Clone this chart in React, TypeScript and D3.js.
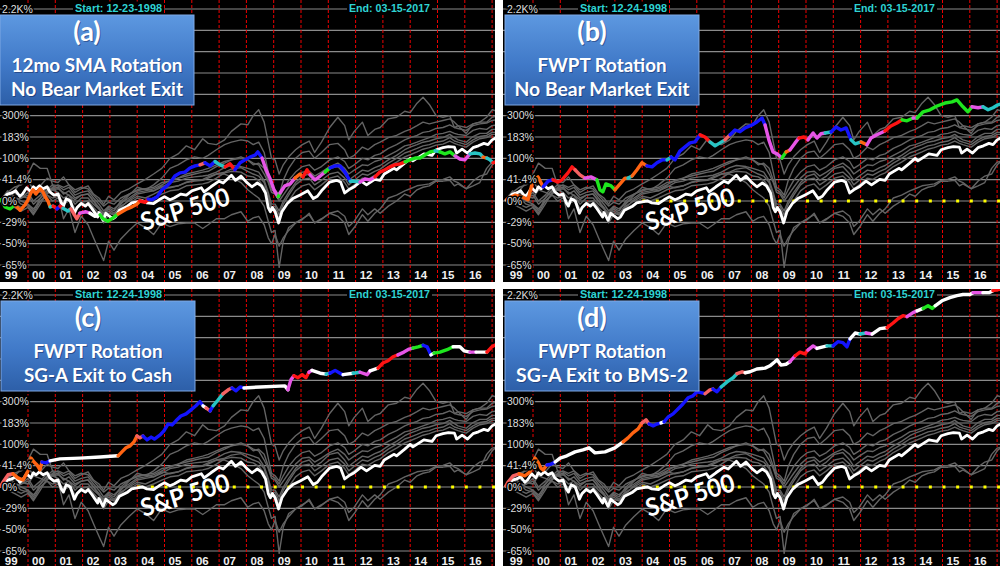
import React from 'react';
import * as d3 from 'd3';

type Pt = [number, number];
type Hold = [number, number, string];

// shared dates of the grey comparison funds (decimal years)
const peerYears = [
  1998.98, 1999.25, 1999.5, 1999.75, 2000.0, 2000.2, 2000.45, 2000.7, 2000.9, 2001.1,
  2001.3, 2001.5, 2001.72, 2001.95, 2002.2, 2002.4, 2002.6, 2002.77, 2002.95, 2003.15,
  2003.4, 2003.7, 2004.0, 2004.3, 2004.6, 2004.9, 2005.2, 2005.5, 2005.8, 2006.1,
  2006.4, 2006.6, 2006.9, 2007.2, 2007.45, 2007.8, 2008.05, 2008.25, 2008.45, 2008.65,
  2008.8, 2008.92, 2009.05, 2009.2, 2009.35, 2009.55, 2009.8, 2010.05, 2010.3, 2010.5,
  2010.75, 2011.05, 2011.35, 2011.6, 2011.75, 2011.95, 2012.25, 2012.45, 2012.7, 2012.9,
  2013.2, 2013.5, 2013.8, 2014.0, 2014.25, 2014.47, 2014.7, 2014.95, 2015.2, 2015.45,
  2015.62, 2015.75, 2016.05, 2016.3, 2016.55, 2016.8, 2017.0, 2017.2,
];

// % gain of each grey fund
const peerEnergy = [
  0, 10, 18, 8, 5, 20, 28, 45, 38, 35,
  48, 30, 15, 22, 28, 12, 5, -5, 8, 2,
  15, 22, 32, 42, 55, 70, 100, 115, 145, 130,
  175, 155, 150, 170, 210, 250, 245, 300, 340, 260,
  160, 100, 95, 55, 80, 105, 130, 150, 165, 120,
  160, 230, 290, 240, 170, 210, 260, 190, 220, 230,
  280, 290, 330, 320, 390, 440, 380, 300, 290, 300,
  230, 240, 200, 250, 260, 290, 340, 330,
];
const peerTech = [
  0, 12, 18, 35, 55, 85, 70, 70, 30, 10,
  -25, -12, -40, -22, -32, -45, -55, -62, -48, -55,
  -46, -38, -30, -35, -42, -30, -34, -31, -30, -30,
  -36, -32, -25, -25, -20, -16, -28, -24, -22, -32,
  -45, -50, -42, -52, -45, -38, -30, -25, -20, -30,
  -25, -18, -15, -22, -34, -28, -12, -20, -12, -18,
  -8, 0, 12, 8, 20, 25, 28, 38, 38, 40,
  28, 32, 22, 38, 50, 55, 80, 95,
];
const peerFinance = [
  0, 12, 5, -5, -8, -18, 0, 12, 20, 22,
  15, 10, 2, 10, 12, 0, -12, -18, -10, -15,
  0, 12, 18, 22, 18, 28, 24, 28, 36, 40,
  42, 48, 55, 55, 48, 35, 20, 12, 5, -8,
  -28, -40, -38, -66, -48, -35, -30, -26, -18, -30,
  -26, -18, -22, -30, -42, -35, -20, -28, -18, -12,
  5, 10, 18, 22, 28, 30, 32, 40, 42, 48,
  38, 35, 22, 28, 35, 70, 88, 92,
];
const peerFund4 = [
  0, 15, 25, 30, 40, 20, 15, 10, 0, 5,
  -5, 0, -15, -5, -5, -15, -20, -25, -18, -20,
  -5, 10, 25, 20, 30, 45, 70, 80, 95, 105,
  100, 110, 130, 150, 160, 170, 165, 150, 160, 120,
  60, 25, 20, 10, 40, 70, 100, 120, 125, 100,
  120, 150, 155, 130, 100, 110, 140, 130, 150, 160,
  180, 190, 210, 220, 240, 260, 250, 260, 270, 280,
  260, 240, 230, 250, 260, 260, 290, 300,
];
const peerFund5 = [
  0, 5, -5, -10, -5, -15, 5, 20, 30, 28,
  20, 25, 10, 15, 18, 5, -5, -15, -8, -12,
  -3, 5, 15, 18, 22, 30, 40, 45, 55, 60,
  65, 70, 80, 90, 95, 100, 95, 80, 85, 70,
  40, 20, 15, 5, 20, 40, 60, 75, 80, 65,
  75, 95, 105, 90, 70, 80, 100, 95, 110, 115,
  135, 150, 170, 180, 190, 205, 210, 225, 230, 245,
  230, 225, 215, 240, 250, 255, 270, 275,
];
const peerFund6 = [
  0, -5, -10, -15, -10, -20, -5, 15, 25, 30,
  25, 30, 20, 25, 22, 10, 0, -8, -2, -5,
  5, 12, 20, 22, 25, 35, 38, 45, 50, 55,
  60, 62, 75, 85, 95, 105, 95, 85, 80, 55,
  35, 15, 12, 0, 10, 25, 45, 60, 62, 50,
  60, 75, 85, 70, 55, 65, 80, 78, 90, 95,
  110, 125, 145, 150, 160, 170, 180, 195, 200, 210,
  200, 195, 190, 215, 225, 220, 240, 245,
];
const peerFund7 = [
  0, 18, 8, 0, -5, -12, 0, 10, 5, 8,
  -2, 5, -12, -2, 0, -10, -18, -30, -20, -25,
  -10, 2, 12, 15, 18, 25, 35, 38, 45, 48,
  50, 52, 60, 72, 78, 75, 70, 65, 60, 40,
  15, -5, -5, -15, 0, 15, 35, 50, 55, 40,
  50, 70, 75, 55, 40, 50, 65, 62, 72, 78,
  95, 110, 130, 140, 150, 160, 165, 175, 180, 195,
  180, 170, 160, 185, 200, 200, 220, 220,
];
const peerFund8 = [
  0, 10, 0, 5, 15, 0, 10, 25, 20, 15,
  5, 10, -5, 5, 5, -5, -12, -22, -15, -20,
  -8, 0, 8, 5, 12, 20, 25, 28, 35, 38,
  40, 45, 55, 60, 68, 72, 62, 55, 50, 35,
  10, -10, -8, -20, -5, 10, 30, 42, 45, 30,
  40, 55, 60, 45, 30, 40, 55, 52, 62, 68,
  85, 100, 118, 125, 135, 145, 150, 160, 165, 180,
  165, 160, 150, 170, 185, 190, 205, 205,
];
const peerFund9 = [
  0, 8, 15, 5, 10, -5, 5, 18, 22, 25,
  12, 18, 5, 10, 12, 0, -10, -20, -12, -18,
  -12, -5, 5, 0, 5, 12, 18, 20, 28, 30,
  32, 35, 45, 58, 62, 60, 50, 48, 40, 25,
  5, -15, -12, -25, -12, 0, 18, 28, 32, 20,
  30, 45, 50, 35, 22, 30, 45, 42, 52, 58,
  75, 88, 105, 112, 122, 132, 138, 148, 152, 165,
  155, 150, 140, 160, 175, 180, 195, 195,
];
const peers = [peerFund4, peerFund5, peerFund6, peerFund7, peerFund8, peerFund9, peerEnergy, peerTech, peerFinance];

// S&P 500, % gain
const sp500: Pt[] = [
  [1998.98, 0], [1999.1, 5], [1999.25, 12], [1999.4, 14], [1999.55, 18], [1999.7, 8], [1999.8, 12], [1999.95, 24],
  [2000.1, 16], [2000.2, 26], [2000.3, 22], [2000.42, 28], [2000.55, 22], [2000.7, 26], [2000.8, 16], [2000.95, 10],
  [2001.1, 12], [2001.22, -3], [2001.3, -8], [2001.4, 4], [2001.55, 0], [2001.7, -18], [2001.8, -10], [2001.95, -4],
  [2002.1, -8], [2002.2, -4], [2002.35, -12], [2002.55, -23], [2002.6, -17], [2002.75, -27], [2002.85, -18], [2002.95, -21],
  [2003.1, -25], [2003.2, -23], [2003.35, -14], [2003.5, -11], [2003.65, -8], [2003.8, -3], [2004.05, -1], [2004.2, 0],
  [2004.35, -3], [2004.6, -4], [2004.8, 2], [2005.0, 7], [2005.2, 2], [2005.35, 5], [2005.6, 12], [2005.8, 10],
  [2006.0, 18], [2006.35, 24], [2006.45, 16], [2006.7, 26], [2007.0, 38], [2007.15, 34], [2007.45, 52], [2007.6, 40],
  [2007.8, 50], [2008.0, 36], [2008.2, 26], [2008.4, 34], [2008.55, 28], [2008.7, 14], [2008.8, -10], [2008.88, -16],
  [2008.95, -10], [2009.05, -16], [2009.18, -30], [2009.3, -16], [2009.5, -4], [2009.7, 4], [2009.95, 10], [2010.25, 18],
  [2010.45, 4], [2010.6, 8], [2010.75, 18], [2011.05, 36], [2011.3, 40], [2011.45, 36], [2011.6, 14], [2011.75, 20],
  [2011.95, 26], [2012.2, 38], [2012.4, 30], [2012.7, 42], [2012.9, 40], [2013.05, 55], [2013.4, 70], [2013.5, 66],
  [2013.8, 85], [2014.0, 100], [2014.1, 92], [2014.5, 115], [2014.8, 110], [2014.95, 130], [2015.2, 138], [2015.4, 142],
  [2015.62, 140], [2015.7, 118], [2015.9, 132], [2016.1, 118], [2016.3, 138], [2016.5, 145], [2016.7, 155], [2016.85, 150],
  [2017.0, 170], [2017.2, 183],
];

// rotation strategies: [year, % gain, holding code of the following stretch]
const rotationA: Hold[] = [
  [1999.01, 2, 'G'], [1999.16, -9, 'G'], [1999.34, -12, 'G'], [1999.52, -6, 'O'], [1999.71, -14, 'O'], [1999.89, -6, 'O'],
  [2000.0, 2, 'O'], [2000.11, 14, 'O'], [2000.18, 20, 'O'], [2000.29, 12, 'O'], [2000.44, 22, 'O'], [2000.55, 16, 'O'],
  [2000.62, 8, 'O'], [2000.73, 0, 'O'], [2000.81, -9, 'C'], [2000.92, -8, 'R'], [2001.06, -12, 'B'], [2001.17, -8, 'R'],
  [2001.28, -11, 'C'], [2001.46, -15, 'C'], [2001.57, -12, 'P'], [2001.68, -19, 'P'], [2001.79, -25, 'P'], [2001.9, -18, 'M'],
  [2002.12, -16, 'M'], [2002.27, -18, 'W'], [2002.45, -22, 'W'], [2002.64, -20, 'G'], [2002.75, -25, 'G'], [2002.93, -28, 'G'],
  [2003.11, -24, 'G'], [2003.3, -19, 'O'], [2003.44, -16, 'O'], [2003.63, -12, 'O'], [2003.81, -9, 'O'], [2003.99, -5, 'O'],
  [2004.1, 0, 'R'], [2004.29, -2, 'R'], [2004.4, 3, 'B'], [2004.54, 2, 'B'], [2004.73, 7, 'B'], [2004.91, 20, 'B'],
  [2005.09, 28, 'B'], [2005.2, 34, 'B'], [2005.38, 50, 'B'], [2005.57, 58, 'B'], [2005.75, 60, 'B'], [2005.93, 71, 'B'],
  [2006.12, 77, 'B'], [2006.3, 80, 'P'], [2006.48, 86, 'B'], [2006.67, 77, 'B'], [2006.85, 90, 'C'], [2007.03, 80, 'C'],
  [2007.22, 74, 'R'], [2007.4, 83, 'R'], [2007.58, 66, 'B'], [2007.77, 86, 'B'], [2007.95, 95, 'B'], [2008.13, 104, 'B'],
  [2008.32, 111, 'B'], [2008.42, 122, 'B'], [2008.57, 101, 'M'], [2008.72, 66, 'M'], [2008.86, 45, 'M'], [2009.01, 20, 'M'],
  [2009.16, 7, 'G'], [2009.23, 14, 'M'], [2009.41, 28, 'M'], [2009.6, 32, 'M'], [2009.78, 45, 'O'], [2009.96, 55, 'O'],
  [2010.07, 48, 'R'], [2010.22, 66, 'R'], [2010.33, 53, 'M'], [2010.51, 41, 'M'], [2010.7, 50, 'M'], [2010.88, 60, 'G'],
  [2011.06, 71, 'B'], [2011.25, 77, 'B'], [2011.43, 77, 'B'], [2011.61, 60, 'B'], [2011.8, 38, 'C'], [2011.98, 38, 'C'],
  [2012.16, 36, 'M'], [2012.34, 43, 'M'], [2012.53, 41, 'M'], [2012.71, 48, 'R'], [2012.89, 60, 'R'], [2013.08, 66, 'R'],
  [2013.26, 74, 'R'], [2013.44, 80, 'R'], [2013.63, 83, 'R'], [2013.81, 89, 'G'], [2013.99, 95, 'G'], [2014.18, 101, 'G'],
  [2014.36, 101, 'G'], [2014.54, 111, 'G'], [2014.73, 122, 'G'], [2014.91, 126, 'C'], [2015.09, 122, 'G'], [2015.27, 115, 'G'],
  [2015.46, 122, 'G'], [2015.64, 108, 'M'], [2015.82, 98, 'M'], [2016.0, 95, 'M'], [2016.19, 115, 'C'], [2016.37, 118, 'C'],
  [2016.56, 115, 'C'], [2016.67, 104, 'O'], [2016.81, 101, 'C'], [2016.92, 95, 'C'], [2017.03, 86, 'R'], [2017.18, 90, 'R'],
];
const rotationB: Hold[] = [
  [1999.05, 3, 'O'], [1999.34, 10, 'O'], [1999.6, 7, 'O'], [1999.82, 2, 'O'], [2000.0, 41, 'O'], [2000.18, 48, 'O'],
  [2000.37, 26, 'B'], [2000.55, 38, 'B'], [2000.73, 41, 'R'], [2000.92, 36, 'R'], [2001.06, 41, 'R'], [2001.28, 58, 'R'],
  [2001.43, 74, 'R'], [2001.54, 66, 'P'], [2001.72, 53, 'P'], [2001.9, 45, 'M'], [2002.12, 48, 'M'], [2002.34, 41, 'G'],
  [2002.45, 20, 'G'], [2002.56, 16, 'G'], [2002.67, 32, 'G'], [2002.86, 28, 'G'], [2003.0, 20, 'O'], [2003.19, 32, 'O'],
  [2003.37, 45, 'O'], [2003.48, 45, 'C'], [2003.63, 50, 'O'], [2003.81, 66, 'O'], [2003.99, 86, 'O'], [2004.17, 77, 'B'],
  [2004.36, 74, 'B'], [2004.54, 86, 'B'], [2004.73, 95, 'B'], [2004.91, 95, 'C'], [2005.06, 104, 'B'], [2005.2, 95, 'B'],
  [2005.38, 125, 'B'], [2005.57, 141, 'B'], [2005.75, 157, 'B'], [2005.93, 161, 'B'], [2006.12, 193, 'R'], [2006.3, 183, 'R'],
  [2006.48, 161, 'C'], [2006.67, 145, 'C'], [2006.85, 157, 'C'], [2007.03, 170, 'P'], [2007.22, 193, 'B'], [2007.4, 217, 'B'],
  [2007.58, 208, 'B'], [2007.77, 228, 'B'], [2008.02, 244, 'B'], [2008.2, 261, 'B'], [2008.39, 285, 'B'], [2008.5, 244, 'M'],
  [2008.64, 170, 'M'], [2008.79, 122, 'M'], [2008.94, 115, 'M'], [2009.12, 101, 'G'], [2009.27, 122, 'O'], [2009.41, 129, 'M'],
  [2009.6, 157, 'M'], [2009.74, 178, 'R'], [2009.92, 183, 'R'], [2010.07, 170, 'M'], [2010.26, 202, 'M'], [2010.4, 178, 'M'],
  [2010.55, 198, 'M'], [2010.7, 202, 'C'], [2010.92, 207, 'B'], [2011.1, 233, 'B'], [2011.28, 217, 'B'], [2011.47, 228, 'B'],
  [2011.65, 170, 'C'], [2011.8, 153, 'C'], [2012.02, 161, 'O'], [2012.23, 149, 'M'], [2012.38, 178, 'M'], [2012.6, 193, 'M'],
  [2012.89, 212, 'R'], [2013.11, 238, 'R'], [2013.33, 255, 'R'], [2013.52, 274, 'G'], [2013.7, 268, 'G'], [2013.92, 285, 'M'],
  [2014.07, 285, 'G'], [2014.29, 326, 'G'], [2014.54, 340, 'G'], [2014.8, 368, 'G'], [2015.09, 391, 'G'], [2015.35, 400, 'G'],
  [2015.53, 417, 'G'], [2015.75, 362, 'G'], [2015.93, 326, 'G'], [2016.08, 362, 'M'], [2016.3, 355, 'M'], [2016.48, 362, 'C'],
  [2016.67, 340, 'C'], [2016.85, 355, 'C'], [2017.03, 377, 'C'], [2017.18, 385, 'C'],
];
const rotationC: Hold[] = [
  [1999.01, 2, 'P'], [1999.08, 8, 'P'], [1999.27, 22, 'P'], [1999.45, 24, 'O'], [1999.63, 16, 'O'], [1999.82, 12, 'O'],
  [2000.0, 30, 'O'], [2000.11, 60, 'O'], [2000.22, 50, 'O'], [2000.33, 43, 'O'], [2000.44, 32, 'O'], [2000.51, 50, 'B'],
  [2000.66, 48, 'B'], [2000.81, 53, 'W'], [2001.17, 58, 'W'], [2001.9, 60, 'W'], [2002.64, 63, 'W'], [2003.3, 66, 'O'],
  [2003.44, 77, 'O'], [2003.59, 89, 'O'], [2003.74, 95, 'O'], [2003.88, 108, 'O'], [2003.99, 129, 'P'], [2004.1, 122, 'P'],
  [2004.21, 129, 'B'], [2004.36, 115, 'B'], [2004.51, 125, 'B'], [2004.63, 118, 'B'], [2004.84, 133, 'B'], [2004.98, 149, 'B'],
  [2005.13, 178, 'B'], [2005.28, 174, 'B'], [2005.42, 193, 'B'], [2005.6, 217, 'B'], [2005.79, 228, 'B'], [2005.97, 250, 'B'],
  [2006.15, 274, 'B'], [2006.3, 300, 'B'], [2006.41, 274, 'W'], [2006.52, 261, 'P'], [2006.67, 244, 'B'], [2006.78, 274, 'C'],
  [2006.96, 311, 'C'], [2007.14, 354, 'P'], [2007.33, 385, 'P'], [2007.47, 400, 'B'], [2007.62, 377, 'B'], [2007.77, 408, 'B'],
  [2007.91, 400, 'W'], [2008.5, 408, 'W'], [2009.41, 417, 'W'], [2009.52, 385, 'M'], [2009.63, 470, 'M'], [2009.74, 509, 'R'],
  [2009.89, 490, 'R'], [2010.04, 520, 'R'], [2010.18, 490, 'R'], [2010.29, 545, 'M'], [2010.4, 565, 'W'], [2010.7, 535, 'W'],
  [2010.92, 525, 'C'], [2011.06, 535, 'B'], [2011.25, 565, 'B'], [2011.43, 535, 'B'], [2011.54, 520, 'W'], [2011.91, 535, 'C'],
  [2012.16, 545, 'M'], [2012.42, 520, 'M'], [2012.53, 560, 'W'], [2012.82, 590, 'R'], [2013.0, 650, 'R'], [2013.19, 677, 'R'],
  [2013.37, 730, 'R'], [2013.55, 755, 'M'], [2013.77, 795, 'M'], [2013.96, 840, 'M'], [2014.1, 855, 'G'], [2014.29, 875, 'G'],
  [2014.47, 900, 'B'], [2014.62, 875, 'B'], [2014.76, 755, 'W'], [2014.87, 780, 'G'], [2015.09, 795, 'G'], [2015.35, 830, 'G'],
  [2015.57, 875, 'W'], [2015.82, 875, 'W'], [2015.97, 814, 'W'], [2016.19, 795, 'M'], [2016.41, 795, 'W'], [2016.81, 795, 'R'],
  [2016.99, 875, 'R'], [2017.18, 920, 'R'],
];
const rotationD: Hold[] = [
  [1999.01, 2, 'P'], [1999.08, 8, 'P'], [1999.27, 20, 'P'], [1999.49, 24, 'O'], [1999.71, 20, 'O'], [1999.89, 28, 'O'],
  [2000.07, 60, 'O'], [2000.18, 50, 'O'], [2000.29, 36, 'O'], [2000.37, 32, 'O'], [2000.51, 43, 'B'], [2000.66, 45, 'B'],
  [2000.81, 50, 'W'], [2000.99, 60, 'W'], [2001.24, 66, 'W'], [2001.54, 77, 'W'], [2001.83, 83, 'W'], [2002.05, 89, 'W'],
  [2002.27, 74, 'W'], [2002.64, 77, 'W'], [2003.0, 89, 'W'], [2003.3, 108, 'O'], [2003.48, 122, 'O'], [2003.66, 141, 'O'],
  [2003.85, 157, 'O'], [2003.99, 183, 'P'], [2004.14, 198, 'P'], [2004.25, 178, 'B'], [2004.4, 170, 'B'], [2004.54, 178, 'B'],
  [2004.69, 183, 'W'], [2004.8, 188, 'B'], [2004.95, 212, 'B'], [2005.13, 228, 'B'], [2005.31, 255, 'B'], [2005.49, 285, 'B'],
  [2005.68, 326, 'B'], [2005.86, 340, 'B'], [2006.01, 370, 'B'], [2006.19, 362, 'B'], [2006.3, 355, 'P'], [2006.48, 385, 'P'],
  [2006.59, 391, 'B'], [2006.74, 370, 'B'], [2006.89, 408, 'C'], [2007.11, 452, 'C'], [2007.33, 490, 'C'], [2007.47, 530, 'P'],
  [2007.66, 550, 'P'], [2007.77, 540, 'W'], [2007.95, 550, 'W'], [2008.2, 580, 'W'], [2008.5, 590, 'W'], [2008.68, 616, 'W'],
  [2008.86, 665, 'W'], [2008.94, 690, 'W'], [2009.08, 625, 'W'], [2009.27, 635, 'W'], [2009.41, 665, 'M'], [2009.6, 743, 'R'],
  [2009.78, 795, 'R'], [2009.96, 770, 'R'], [2010.07, 825, 'M'], [2010.26, 890, 'M'], [2010.4, 850, 'W'], [2010.62, 875, 'W'],
  [2010.77, 890, 'C'], [2010.99, 890, 'B'], [2011.17, 960, 'B'], [2011.35, 945, 'B'], [2011.5, 875, 'B'], [2011.61, 1010, 'W'],
  [2011.8, 1120, 'W'], [2011.98, 1100, 'C'], [2012.2, 1120, 'M'], [2012.42, 1100, 'W'], [2012.71, 1210, 'W'], [2012.97, 1230, 'R'],
  [2013.19, 1335, 'R'], [2013.37, 1440, 'R'], [2013.55, 1516, 'R'], [2013.7, 1490, 'M'], [2013.92, 1600, 'M'], [2014.07, 1650, 'W'],
  [2014.29, 1720, 'G'], [2014.47, 1800, 'G'], [2014.62, 1720, 'G'], [2014.73, 1800, 'W'], [2014.98, 1960, 'W'], [2015.27, 2070, 'W'],
  [2015.53, 2140, 'W'], [2015.75, 2180, 'W'], [2016.0, 2180, 'W'], [2016.12, 2250, 'M'], [2016.37, 2250, 'M'], [2016.48, 2250, 'W'],
  [2016.7, 2250, 'W'], [2016.85, 2330, 'R'], [2017.18, 2400, 'R'],
];

// grid lines every half doubling; the ones behind the title boxes carry no visible label
const yTickValues = [0.3536, 0.5, 0.7071, 1, 1.4142, 2, 2.8284, 4, 5.6569, 8, 11.314, 16, 22.627];
const yTickLabels = ['-65%', '-50%', '-29%', '0%', '41.4%', '100%', '183%', '300%', '', '', '', '', '2.2K%'];
const yearTicks = [1999, 2000, 2001, 2002, 2003, 2004, 2005, 2006, 2007, 2008, 2009, 2010, 2011, 2012, 2013, 2014, 2015, 2016, 2017];
const yearLabels = ['99', '00', '01', '02', '03', '04', '05', '06', '07', '08', '09', '10', '11', '12', '13', '14', '15', '16', '17'];
const cashLine: Pt[] = [[2004, 0], [2017.2, 0]];

const holdingColors: Record<string, string> = {
  O: '#ff6412', R: '#ff1414', C: '#27c4c4', B: '#1414ff', G: '#1ee61e', M: '#e655e6', P: '#f56262', W: '#ffffff',
};

const panels = [
  { id: 'a', left: 0, top: 0, cx: 0, cy: 0, cw: 495, ch: 282, tag: '(a)', title: '12mo SMA Rotation', sub: 'No Bear Market Exit', titleW: 171, subW: 172, start: 'Start: 12-23-1998', rotation: rotationA, cash: false },
  { id: 'b', left: 505, top: 0, cx: 503, cy: 0, cw: 497, ch: 282, tag: '(b)', title: 'FWPT Rotation', sub: 'No Bear Market Exit', titleW: 129, subW: 175, start: 'Start: 12-24-1998', rotation: rotationB, cash: true },
  { id: 'c', left: 0, top: 286, cx: 0, cy: 289, cw: 495, ch: 277, tag: '(c)', title: 'FWPT Rotation', sub: 'SG-A Exit to Cash', titleW: 129, subW: 148, start: 'Start: 12-24-1998', rotation: rotationC, cash: true },
  { id: 'd', left: 505, top: 286, cx: 503, cy: 289, cw: 497, ch: 277, tag: '(d)', title: 'FWPT Rotation', sub: 'SG-A Exit to BMS-2', titleW: 128, subW: 172, start: 'Start: 12-24-1998', rotation: rotationD, cash: true },
];

type PanelSpec = typeof panels[number];

const Panel: React.FC<{ p: PanelSpec }> = ({ p }) => {
  const x = d3.scaleLinear().domain([2000, 2017]).range([p.left + 28, p.left + 28 + 17 * 27.3]);
  const y = d3.scaleLog().base(2).domain([yTickValues[0], yTickValues[12]]).range([p.top + 265, p.top + 9]);
  const yp = (pct: number) => y(1 + pct / 100);
  const line = d3.line<Pt>().x(d => x(d[0])).y(d => yp(d[1]));

  const peerPaths = peers.map(vals =>
    line(peerYears.filter((_, i) => i < vals.length).map((yr, i) => [yr, vals[i]] as Pt)));

  // split the rotation into runs of the same holding
  const runs: { code: string; pts: Pt[] }[] = [];
  for (let i = 0; i < p.rotation.length - 1; i++) {
    const code = p.rotation[i][2];
    if (!runs.length || runs[runs.length - 1].code !== code) {
      runs.push({ code, pts: [[p.rotation[i][0], p.rotation[i][1]]] });
    }
    runs[runs.length - 1].pts.push([p.rotation[i + 1][0], p.rotation[i + 1][1]]);
  }

  const left = p.left;
  const top = p.top;
  const right = p.cx + p.cw;
  const boxX = p.id === 'c' ? left + 1 : left;
  return (
    <g clipPath={`url(#clip-${p.id})`}>
      <rect x={p.cx} y={p.cy} width={p.cw} height={p.ch} fill="#000" />
      {yTickValues.map(v => (
        <line key={v} x1={p.cx} x2={right} y1={y(v)} y2={y(v)} stroke="#8a8a8a" strokeWidth={1.2} />
      ))}
      {yearTicks.slice(1).map(yr => (
        <line key={yr} x1={x(yr)} x2={x(yr)} y1={p.cy} y2={p.cy + p.ch} stroke="#ee0000" strokeWidth={1} strokeDasharray="3,2" />
      ))}
      {peerPaths.map((d, i) => (
        <path key={i} d={d || ''} fill="none" stroke="#646464" strokeWidth={1.4} strokeLinejoin="round" />
      ))}
      {p.cash && (
        <path d={line(cashLine) || ''} stroke="#ffff00" strokeWidth={3} strokeDasharray="3,10.65" fill="none" />
      )}
      <path d={line(sp500) || ''} fill="none" stroke="#fff" strokeWidth={2.8} strokeLinejoin="round" />
      {runs.map((r, i) => (
        <path key={i} d={line(r.pts) || ''} fill="none" stroke={holdingColors[r.code]} strokeWidth={3.4}
          strokeLinejoin="round" strokeLinecap="round" />
      ))}
      {yTickValues.map((v, i) => yTickLabels[i] ? (
        <text key={v} x={left + 2} y={y(v) + 3.8} fontSize={10.5} fill="#dedede" stroke="#000" strokeWidth={3}
          paintOrder="stroke" fontFamily="'Liberation Sans', Arial, sans-serif">{yTickLabels[i]}</text>
      ) : null)}
      {yearTicks.map((yr, i) => x(yr) + 5 < right ? (
        <text key={yr} x={x(yr) + 10.5} y={top + 279} fontSize={11.5} fontWeight="bold" fill="#f0f0f0" textAnchor="middle"
          fontFamily="'Liberation Sans', Arial, sans-serif">{yearLabels[i]}</text>
      ) : null)}
      <rect x={left + 73} y={top + 1.5} width={91} height={12} fill="#000" />
      <text x={left + 75} y={top + 11.5} fontSize={10.5} fontWeight="bold" fill="#2fd3d3" textLength={87}
        lengthAdjust="spacingAndGlyphs" fontFamily="'Liberation Sans', Arial, sans-serif">{p.start}</text>
      <rect x={left + 347} y={top + 1.5} width={85} height={12} fill="#000" />
      <text x={left + 349} y={top + 11.5} fontSize={10.5} fontWeight="bold" fill="#2fd3d3" textLength={81}
        lengthAdjust="spacingAndGlyphs" fontFamily="'Liberation Sans', Arial, sans-serif">End: 03-15-2017</text>
      <rect x={boxX} y={top + 15} width={194} height={90} fill="url(#boxGrad)" stroke="#7fa8e4" strokeWidth={1} />
      <g fontFamily="Lato, 'Open Sans', sans-serif" fontWeight="bold" textAnchor="middle">
        <text x={boxX + 88} y={top + 42} fontSize={27} fill="rgba(0,0,40,0.35)">{p.tag}</text>
        <text x={boxX + 87} y={top + 41} fontSize={27} fill="#fff">{p.tag}</text>
        <text x={boxX + 98} y={top + 73} fontSize={19} fill="rgba(0,0,40,0.35)" textLength={p.titleW} lengthAdjust="spacingAndGlyphs">{p.title}</text>
        <text x={boxX + 97} y={top + 72} fontSize={19} fill="#fff" textLength={p.titleW} lengthAdjust="spacingAndGlyphs">{p.title}</text>
        <text x={boxX + 98} y={top + 97} fontSize={19} fill="rgba(0,0,40,0.35)" textLength={p.subW} lengthAdjust="spacingAndGlyphs">{p.sub}</text>
        <text x={boxX + 97} y={top + 96} fontSize={19} fill="#fff" textLength={p.subW} lengthAdjust="spacingAndGlyphs">{p.sub}</text>
      </g>
      <g transform={`translate(${left + 185},${top + 209}) rotate(-17)`}>
        <text x={0} y={9} fontSize={25} fontWeight="bold" fill="#fff" textAnchor="middle" textLength={92}
          lengthAdjust="spacingAndGlyphs" fontFamily="Lato, 'Open Sans', sans-serif">S&amp;P 500</text>
      </g>
    </g>
  );
};

const App: React.FC = () => (
  <div style={{ position: 'absolute', left: 0, top: 0 }}>
    <svg width={1000} height={566} style={{ display: 'block', background: '#fff' }}>
      <defs>
        <linearGradient id="boxGrad" x1="0" y1="0" x2="0" y2="1">
          <stop offset="0%" stopColor="#5d98e0" />
          <stop offset="55%" stopColor="#4079c8" />
          <stop offset="100%" stopColor="#2d5fa8" />
        </linearGradient>
        {panels.map(p => (
          <clipPath key={p.id} id={`clip-${p.id}`}>
            <rect x={p.cx} y={p.cy} width={p.cw} height={p.ch} />
          </clipPath>
        ))}
      </defs>
      {panels.map(p => <Panel key={p.id} p={p} />)}
    </svg>
  </div>
);

export default App;
